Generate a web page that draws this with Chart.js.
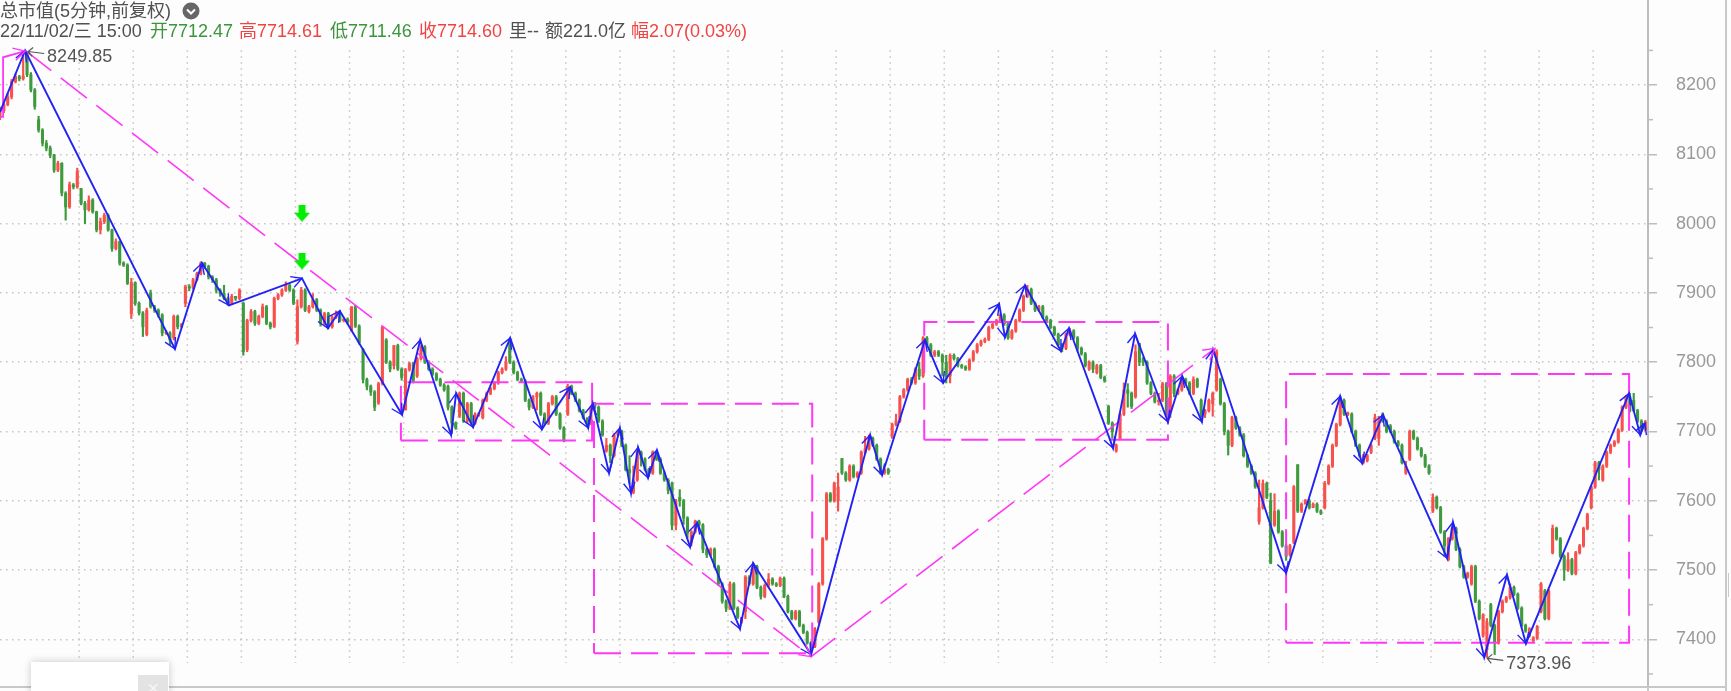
<!DOCTYPE html>
<html>
<head>
<meta charset="utf-8">
<title>总市值</title>
<script src="https://cdn.jsdelivr.net/npm/chart.js@4/dist/chart.umd.min.js"></script>
<style>
html,body{margin:0;padding:0;background:#fdfdfd;overflow:hidden}
#wrap{position:relative;width:1731px;height:691px;overflow:hidden;font-family:"Liberation Sans","Noto Sans CJK SC",sans-serif;font-size:18px;color:#505050}
#wrap canvas{position:absolute;left:0;top:0;filter:blur(0.4px)}
.txt{position:absolute;white-space:nowrap;line-height:22px}
.up{color:#f04444}
.down{color:#3c953c}
#popup{position:absolute;left:31px;top:662px;width:138px;height:40px;background:#fff;box-shadow:0 0 8px rgba(0,0,0,.22)}
#popclose{position:absolute;left:107px;top:13px;width:30px;height:30px;background:#e3e3e3;color:#f6f6f6;text-align:center;font-size:20px;line-height:26px}
.rule{position:absolute;background:#c9c9c9}
</style>
</head>
<body>
<div id="wrap">
  <canvas id="grafico" width="1731" height="691"></canvas>
  <div class="txt" style="left:0;top:0">总市值(5分钟,前复权)</div>
  <svg style="position:absolute;left:182px;top:2px" width="18" height="18"><circle cx="9" cy="9" r="8.5" fill="#666"/><path d="M5 7.5 L9 11.5 L13 7.5" stroke="#fff" stroke-width="2" fill="none"/></svg>
  <div class="txt" style="left:0;top:20px">22/11/02/三 15:00</div>
  <div class="txt down" style="left:150px;top:20px">开7712.47</div>
  <div class="txt up" style="left:239px;top:20px">高7714.61</div>
  <div class="txt down" style="left:330px;top:20px">低7711.46</div>
  <div class="txt up" style="left:419px;top:20px">收7714.60</div>
  <div class="txt" style="left:509px;top:20px">里--</div>
  <div class="txt" style="left:545px;top:20px">额221.0亿</div>
  <div class="txt up" style="left:631px;top:20px">幅2.07(0.03%)</div>
  <div class="rule" style="left:0;top:686px;width:1726px;height:2px"></div>
  <div class="rule" style="left:1647px;top:687px;width:2px;height:4px"></div>
  <div class="rule" style="left:1725px;top:0;width:2px;height:691px"></div>
  <div class="rule" style="left:1728px;top:573px;width:1px;height:24px"></div>
  <div id="popup"><div id="popclose">×</div></div>
</div>
<script>
// velas de 5 minutos
const candleOpen=[
8155,8163,8172,8183,8205,8212,8209,8245,8215,8193,8150,8135,8116,8109,8099,8077,8087,8044,8024,8056,
8053,8050,8029,8020,8034,8017,7991,8003,8012,7991,7964,7974,7943,7940,7870,7915,7885,7871,7840,7900,
7880,7875,7868,7842,7842,7835,7866,7851,7885,7909,7907,7919,7928,7943,7938,7923,7919,7904,7899,7892,
7885,7895,7892,7885,7818,7860,7873,7856,7866,7880,7856,7851,7892,7897,7904,7911,7904,7830,7880,7904,
7873,7880,7890,7875,7856,7870,7851,7865,7870,7860,7862,7845,7880,7852,7818,7775,7765,7757,7741,7769,
7832,7800,7795,7824,7790,7731,7789,7798,7780,7805,7822,7800,7790,7783,7775,7767,7765,7735,7712,7722,
7755,7715,7740,7712,7725,7720,7745,7755,7762,7770,7785,7790,7830,7800,7785,7775,7773,7745,7735,7750,
7755,7725,7712,7740,7750,7725,7705,7725,7765,7755,7745,7730,7715,7712,7740,7735,7715,7672,7680,7665,
7695,7700,7680,7645,7612,7630,7670,7660,7645,7640,7670,7660,7640,7630,7625,7565,7605,7600,7575,7540,
7555,7570,7565,7530,7522,7530,7505,7480,7455,7445,7480,7445,7425,7440,7490,7480,7505,7475,7462,7478,
7487,7480,7478,7488,7462,7440,7430,7440,7420,7410,7395,7390,7425,7480,7545,7610,7600,7600,7661,7640,
7630,7650,7635,7640,7670,7675,7690,7680,7660,7640,7645,7692,7710,7715,7750,7760,7775,7770,7790,7780,
7835,7825,7810,7815,7810,7800,7780,7810,7805,7795,7793,7790,7803,7815,7825,7830,7833,7850,7855,7860,
7868,7855,7835,7845,7860,7875,7895,7905,7885,7875,7880,7865,7860,7850,7840,7825,7820,7840,7845,7835,
7820,7812,7790,7800,7785,7795,7778,7736,7712,7672,7690,7725,7760,7755,7750,7827,7805,7800,7770,7755,
7743,7745,7769,7730,7780,7755,7760,7775,7770,7755,7775,7745,7725,7730,7740,7760,7775,7740,7700,7680,
7720,7705,7695,7665,7650,7640,7570,7590,7625,7600,7565,7585,7555,7535,7522,7540,7652,7585,7595,7600,
7590,7595,7585,7590,7625,7650,7680,7710,7745,7725,7725,7700,7680,7655,7658,7670,7690,7690,7725,7715,
7708,7700,7685,7680,7640,7660,7700,7690,7675,7665,7650,7585,7605,7590,7555,7515,7545,7560,7530,7505,
7490,7480,7505,7455,7405,7385,7450,7420,7395,7440,7455,7460,7475,7465,7445,7420,7405,7398,7402,7440,
7470,7430,7525,7560,7545,7520,7500,7515,7495,7525,7535,7560,7590,7620,7655,7630,7650,7670,7680,7685,7702,7735,7750,7745,7730,7715,7703];
const candleHigh=[
8168,8176,8188,8208,8216,8214,8250,8247,8218,8195,8155,8137,8120,8112,8100,8090,8088,8046,8060,8058,
8080,8051,8032,8040,8036,8018,8008,8015,8014,7992,7978,7975,7945,7942,7921,7916,7887,7873,7878,7904,
7882,7877,7870,7846,7844,7868,7868,7856,7911,7912,7921,7930,7945,7944,7940,7925,7921,7906,7911,7894,
7898,7895,7906,7887,7862,7876,7875,7868,7884,7882,7858,7894,7899,7906,7916,7913,7906,7890,7908,7906,
7882,7899,7892,7877,7872,7872,7867,7874,7872,7864,7864,7880,7882,7854,7820,7777,7767,7759,7771,7851,
7834,7802,7824,7826,7792,7791,7800,7800,7807,7824,7824,7802,7792,7785,7777,7769,7767,7737,7714,7757,
7757,7742,7742,7727,7727,7747,7757,7764,7772,7787,7792,7808,7832,7802,7787,7777,7775,7747,7752,7757,
7757,7727,7742,7752,7752,7727,7707,7768,7767,7757,7747,7732,7720,7737,7742,7737,7717,7690,7682,7697,
7702,7702,7682,7665,7650,7672,7672,7662,7647,7672,7672,7662,7642,7632,7627,7602,7616,7602,7577,7557,
7572,7572,7567,7532,7532,7532,7507,7482,7457,7483,7482,7447,7432,7492,7492,7510,7507,7477,7480,7495,
7489,7482,7490,7490,7464,7442,7442,7442,7422,7412,7397,7417,7482,7547,7612,7612,7627,7640,7661,7642,
7652,7652,7642,7672,7693,7695,7692,7682,7662,7647,7647,7712,7725,7752,7762,7777,7778,7792,7800,7837,
7837,7827,7817,7817,7812,7810,7812,7812,7807,7797,7795,7805,7817,7827,7832,7835,7852,7857,7862,7870,
7870,7857,7847,7862,7877,7897,7911,7907,7887,7882,7882,7867,7862,7852,7842,7827,7842,7849,7847,7837,
7822,7814,7802,7802,7797,7797,7780,7738,7714,7682,7727,7770,7769,7757,7825,7827,7807,7802,7772,7757,
7755,7771,7771,7782,7782,7762,7777,7777,7772,7779,7777,7747,7732,7747,7757,7818,7777,7742,7702,7722,
7722,7707,7697,7667,7652,7642,7630,7630,7627,7611,7610,7587,7557,7537,7537,7622,7652,7597,7602,7602,
7597,7597,7587,7628,7652,7682,7712,7751,7747,7728,7727,7702,7682,7667,7667,7682,7725,7722,7727,7717,
7710,7702,7687,7682,7657,7702,7702,7692,7677,7667,7652,7610,7607,7592,7557,7547,7562,7562,7532,7507,
7497,7507,7507,7457,7437,7430,7452,7422,7442,7457,7462,7480,7477,7467,7447,7422,7417,7404,7420,7482,
7472,7472,7565,7562,7547,7522,7525,7517,7527,7537,7562,7582,7622,7657,7657,7652,7672,7682,7687,7704,7737,7752,7755,7755,7732,7717,7716];
const candleLow=[
8150,8160,8170,8180,8203,8206,8207,8212,8190,8165,8132,8112,8105,8095,8074,8075,8040,8005,8022,8050,
8051,8027,8000,8018,8015,7988,7985,8000,7989,7960,7962,7940,7938,7912,7863,7882,7868,7837,7838,7878,
7872,7865,7838,7840,7825,7832,7848,7850,7880,7903,7905,7917,7926,7935,7920,7915,7900,7895,7890,7882,
7883,7889,7890,7810,7815,7858,7853,7854,7864,7854,7848,7850,7890,7895,7902,7902,7883,7826,7878,7873,
7871,7878,7873,7852,7854,7848,7849,7863,7858,7858,7855,7845,7850,7826,7770,7760,7752,7730,7739,7767,
7798,7786,7790,7788,7774,7731,7787,7770,7778,7803,7798,7788,7781,7773,7765,7758,7731,7697,7703,7720,
7713,7712,7710,7710,7722,7718,7743,7753,7760,7768,7783,7788,7798,7783,7773,7771,7743,7731,7733,7731,
7723,7710,7710,7738,7723,7703,7685,7723,7753,7743,7728,7718,7708,7710,7733,7713,7693,7670,7655,7663,
7693,7678,7643,7625,7610,7628,7650,7643,7635,7638,7658,7638,7628,7610,7558,7558,7592,7566,7546,7535,
7553,7560,7525,7518,7520,7503,7478,7452,7440,7443,7443,7430,7423,7430,7478,7478,7473,7458,7460,7476,
7478,7476,7476,7460,7438,7428,7428,7418,7408,7393,7380,7388,7423,7478,7543,7598,7598,7585,7638,7628,
7628,7633,7633,7638,7668,7673,7678,7658,7638,7638,7638,7690,7708,7713,7748,7758,7768,7768,7775,7778,
7823,7808,7808,7808,7780,7770,7770,7803,7793,7791,7788,7788,7801,7813,7823,7828,7831,7848,7853,7858,
7853,7833,7833,7843,7858,7873,7893,7883,7873,7873,7863,7858,7848,7838,7823,7815,7818,7838,7833,7816,
7810,7793,7788,7785,7783,7776,7771,7710,7690,7670,7688,7723,7735,7733,7748,7795,7795,7768,7753,7741,
7738,7743,7723,7720,7750,7753,7758,7768,7753,7753,7763,7721,7720,7728,7722,7758,7738,7695,7666,7678,
7703,7693,7663,7648,7638,7618,7566,7588,7603,7509,7563,7553,7533,7514,7520,7538,7583,7583,7598,7588,
7593,7583,7580,7588,7623,7648,7678,7708,7723,7723,7698,7678,7663,7653,7656,7668,7688,7680,7713,7698,
7698,7683,7678,7653,7638,7658,7688,7673,7663,7648,7638,7583,7588,7553,7520,7513,7543,7528,7503,7488,
7488,7478,7453,7428,7403,7374,7418,7378,7393,7438,7453,7458,7463,7443,7418,7410,7403,7396,7400,7438,
7428,7428,7523,7543,7518,7485,7498,7493,7493,7523,7533,7558,7588,7618,7630,7628,7648,7668,7678,7683,7700,7733,7728,7728,7713,7701,7701];
const candleClose=[
8163,8172,8183,8205,8212,8209,8213,8215,8193,8169,8135,8116,8109,8099,8077,8087,8044,8024,8056,8053,
8075,8029,8020,8034,8017,7991,8003,8012,7991,7964,7974,7943,7940,7914,7915,7885,7871,7851,7875,7880,
7875,7868,7842,7842,7832,7866,7851,7854,7909,7907,7919,7928,7943,7938,7923,7919,7904,7899,7892,7885,
7895,7892,7904,7815,7860,7873,7856,7866,7880,7856,7851,7892,7897,7904,7911,7904,7885,7880,7904,7875,
7880,7890,7875,7856,7870,7851,7865,7870,7860,7862,7858,7880,7852,7828,7775,7765,7757,7735,7769,7851,
7800,7790,7824,7790,7778,7789,7798,7773,7805,7822,7800,7790,7783,7775,7767,7760,7735,7712,7705,7755,
7715,7740,7712,7725,7725,7745,7755,7762,7770,7785,7790,7800,7800,7785,7775,7773,7745,7735,7750,7755,
7725,7712,7740,7750,7725,7705,7688,7765,7755,7745,7730,7720,7712,7735,7735,7715,7695,7680,7665,7695,
7700,7680,7645,7640,7630,7670,7660,7645,7640,7670,7660,7640,7630,7615,7565,7600,7600,7575,7553,7555,
7570,7565,7530,7522,7530,7505,7480,7455,7445,7480,7445,7432,7430,7490,7480,7505,7475,7462,7478,7487,
7480,7478,7488,7462,7440,7430,7440,7420,7410,7395,7385,7415,7480,7545,7610,7600,7625,7620,7640,7630,
7650,7635,7640,7670,7675,7690,7680,7660,7640,7645,7640,7710,7715,7750,7760,7775,7770,7790,7780,7835,
7825,7810,7815,7810,7800,7780,7810,7805,7795,7793,7790,7803,7815,7825,7830,7833,7850,7855,7860,7868,
7855,7835,7845,7860,7875,7895,7905,7885,7875,7880,7865,7860,7850,7840,7825,7820,7840,7845,7835,7820,
7812,7795,7800,7790,7795,7778,7773,7712,7700,7680,7725,7760,7755,7736,7815,7800,7800,7770,7755,7743,
7745,7769,7725,7780,7755,7760,7775,7770,7755,7775,7765,7725,7730,7745,7755,7815,7740,7700,7680,7720,
7705,7695,7665,7650,7640,7620,7590,7625,7605,7510,7585,7555,7535,7520,7535,7620,7585,7595,7600,7590,
7595,7585,7582,7625,7650,7680,7710,7745,7725,7725,7700,7680,7665,7665,7665,7680,7720,7715,7715,7700,
7700,7685,7680,7655,7650,7700,7690,7675,7665,7650,7640,7605,7590,7555,7535,7545,7560,7530,7505,7490,
7495,7505,7455,7430,7435,7425,7420,7395,7440,7455,7460,7475,7465,7445,7420,7412,7415,7402,7418,7480,
7430,7470,7560,7545,7520,7500,7515,7495,7525,7535,7560,7580,7620,7655,7645,7650,7670,7680,7685,7702,7735,7750,7730,7730,7715,7703,7714];

// zigzag azul (posicion en velas, valor)
const zigX=[0,6.5,45.3,52.3,59.3,78.2,84.9,88,104.1,108.8,116.8,118.1,122.5,132.1,140.3,147.6,152.3,153.5,157.7,160.5,163.4,165.2,167.8,170.1,178.7,180.5,191.6,195,210,225.3,228.4,239.5,244.2,258.7,260.2,265.4,274.7,276.8,288.2,293.9,302.4,306.1,311.2,314.1,333,347,352.7,358.1,374.7,376.2,384.3,390.2,395.1,421.8,424.7,425.9];
const zigY=[8161,8249.85,7819,7943,7882,7921,7849,7874,7724,7832,7695,7755,7706,7835,7703,7764,7705,7740,7640,7705,7611,7677,7633,7673,7533,7568,7415,7510,7378,7695,7637,7832,7770,7884,7836,7911,7816,7849,7676,7841,7714,7780,7714,7818,7496,7751,7654,7724,7517,7569,7373.96,7493,7394,7755,7695,7712];

// tendencia magenta y cajas
const trendX=[6.5,210,314.6];
const trendY=[8249.85,7375,7820];
const startX=[0,0.8,0.8,6.5];
const startY=[8154,8154,8240,8249];
const boxLeft=[103.8,153.8,239.3,333];
const boxRight=[153.3,210.3,302.4,421.8];
const boxTop=[7771,7740,7858,7783];
const boxBottom=[7687,7380,7688,7395];

// flechas verdes
const signalX=[78.2,78.2];
const signalY=[8015,7946];

const extremeX=[6.5,384.3];
const extremeY=[8249.85,7373.96];
const extremeLabel=["8249.85","7373.96"];

const tickValues=[8200,8100,8000,7900,7800,7700,7600,7500,7400];
const minorTicks=[8250,8150,8050,7950,7850,7750,7650,7550,7450,7350];
const gridSlots=[20.5,34.5,48.5,62.5,76.5,90.5,104.5,118.5,132.5,146.5,160.5,174.5,188.5,202.5,216.5,230.5,244.5,258.5,272.5,286.5,300.5,314.5,328.5,342.5,356.5,370.5,384.5,398.5,412.5];

const ROJO="#f8504c";
const VERDE="#3f9a3f";
const AZUL="#2222f5";
const MAGENTA="#ff38f5";

function pares(xs,ys){
  return xs.map((x,i)=>({x:x,y:ys[i]}));
}

const colores=candleClose.map((c,i)=>c>=candleOpen[i]?ROJO:VERDE);
const cuerpos=candleClose.map((c,i)=>({x:i,y:[candleOpen[i],c]}));
const mechas=candleClose.map((c,i)=>({x:i,y:[candleLow[i],candleHigh[i]]}));

let puntosCajas=[];
boxLeft.forEach((l,i)=>{
  puntosCajas.push({x:l,y:boxBottom[i]},{x:boxRight[i],y:boxBottom[i]},{x:boxRight[i],y:boxTop[i]},{x:l,y:boxTop[i]},{x:l,y:boxBottom[i]},{x:l,y:null});
});

let puntosGrid=[];
gridSlots.forEach(g=>{
  puntosGrid.push({x:g,y:8250},{x:g,y:7366},{x:g,y:null});
});

function flechaVerde(){
  const c=document.createElement("canvas");
  c.width=16;c.height=17;
  const g=c.getContext("2d");
  g.fillStyle="#00ee00";
  g.beginPath();
  g.moveTo(4.5,0);g.lineTo(11.5,0);g.lineTo(11.5,8);g.lineTo(16,8);g.lineTo(8,17);g.lineTo(0,8);g.lineTo(4.5,8);
  g.closePath();
  g.fill();
  return c;
}

function punta(ctx,x0,y0,x1,y1,largo,color){
  const a=Math.atan2(y1-y0,x1-x0);
  ctx.strokeStyle=color;
  ctx.lineWidth=1.4;
  ctx.beginPath();
  ctx.moveTo(x1-largo*Math.cos(a-0.5),y1-largo*Math.sin(a-0.5));
  ctx.lineTo(x1,y1);
  ctx.lineTo(x1-largo*Math.cos(a+0.5),y1-largo*Math.sin(a+0.5));
  ctx.stroke();
}

const marcas={
  id:"marcas",
  afterDatasetsDraw(chart){
    const ctx=chart.ctx;
    const sx=chart.scales.x;
    const sy=chart.scales.y;
    ctx.save();
    for(let i=1;i<zigX.length;i++){
      punta(ctx,sx.getPixelForValue(zigX[i-1]),sy.getPixelForValue(zigY[i-1]),sx.getPixelForValue(zigX[i]),sy.getPixelForValue(zigY[i]),12,AZUL);
    }
    for(let i=1;i<trendX.length;i++){
      punta(ctx,sx.getPixelForValue(trendX[i-1]),sy.getPixelForValue(trendY[i-1]),sx.getPixelForValue(trendX[i]),sy.getPixelForValue(trendY[i]),13,MAGENTA);
    }
    punta(ctx,sx.getPixelForValue(startX[2]),sy.getPixelForValue(startY[2]),sx.getPixelForValue(startX[3]),sy.getPixelForValue(startY[3]),13,MAGENTA);
    // rotulos de maximo y minimo
    ctx.font="18px 'Liberation Sans'";
    ctx.textBaseline="middle";
    extremeX.forEach((x,i)=>{
      const px=sx.getPixelForValue(x);
      const py=sy.getPixelForValue(extremeY[i]);
      ctx.strokeStyle="#555";
      ctx.lineWidth=1.2;
      ctx.beginPath();
      ctx.moveTo(px+3,py+1);ctx.lineTo(px+19,py+3);
      ctx.moveTo(px+8,py-3);ctx.lineTo(px+3,py+1);ctx.lineTo(px+7,py+6);
      ctx.stroke();
      ctx.fillStyle="#555";
      ctx.fillText(extremeLabel[i],px+22,py+7);
    });
    // marcas cortas del eje
    ctx.strokeStyle="#bdbdbd";
    ctx.lineWidth=1.5;
    minorTicks.forEach(v=>{
      const py=sy.getPixelForValue(v);
      ctx.beginPath();
      ctx.moveTo(sx.right,py);ctx.lineTo(sx.right+5,py);
      ctx.stroke();
    });
    ctx.restore();
  }
};

new Chart("grafico",{
  type:"bar",
  data:{
    datasets:[
      {type:"line",data:pares(zigX,zigY),borderColor:AZUL,borderWidth:1.9,pointRadius:0,order:0,tension:0},
      {type:"line",data:pares(signalX,signalY),showLine:false,pointStyle:flechaVerde(),pointRadius:8,order:1},
      {type:"line",data:pares(trendX,trendY),borderColor:MAGENTA,borderWidth:1.6,borderDash:[33,12],pointRadius:0,order:2,tension:0},
      {type:"line",data:pares(startX,startY),borderColor:MAGENTA,borderWidth:1.8,pointRadius:0,order:2,tension:0},
      {type:"line",data:puntosCajas,borderColor:MAGENTA,borderWidth:2,borderDash:[27,10],pointRadius:0,order:2,tension:0},
      {data:cuerpos,backgroundColor:colores,barThickness:2.4,minBarLength:1,grouped:false,order:3},
      {data:mechas,backgroundColor:colores,barThickness:1.5,grouped:false,order:4},
      {type:"line",data:puntosGrid,borderColor:"#c4c4c4",borderWidth:1.5,borderDash:[1.5,4.5],pointRadius:0,order:5,tension:0}
    ]
  },
  options:{
    responsive:false,
    animation:false,
    layout:{autoPadding:false,padding:{left:0,right:0,top:0,bottom:4}},
    plugins:{legend:{display:false},tooltip:{enabled:false}},
    scales:{
      x:{
        type:"linear",
        display:false,
        offset:false,
        min:0,
        max:426.7,
        grid:{display:false,offset:false}
      },
      y:{
        type:"linear",
        position:"right",
        min:7331.2,
        max:8322.7,
        afterBuildTicks(scale){
          scale.ticks=tickValues.map(v=>({value:v}));
        },
        afterFit(scale){
          scale.width=83;
          scale.paddingTop=0;
          scale.paddingBottom=0;
        },
        border:{color:"#bdbdbd",width:2,dash:[1.5,4.5]},
        grid:{color:"#c4c4c4",lineWidth:1.5,tickLength:9,tickColor:"#bdbdbd"},
        ticks:{color:"#999",padding:19,font:{family:"'Liberation Sans'",size:18},callback:v=>String(v)}
      }
    }
  },
  plugins:[marcas]
});
</script>
</body>
</html>
